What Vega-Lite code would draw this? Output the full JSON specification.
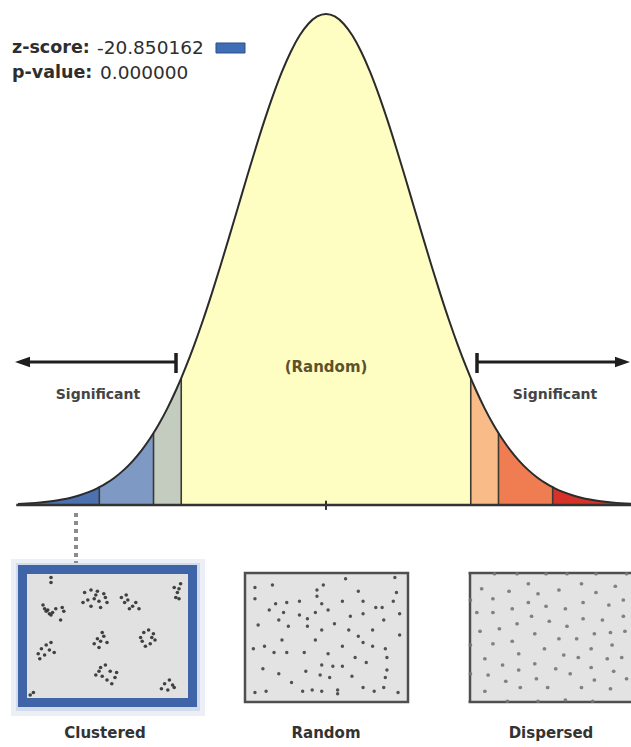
{
"$schema":"https://vega.github.io/schema/vega-lite/v6.json",
"width":631,"height":747,
"autosize":{"type":"none"},
"padding":0,
"background":"white",
"config":{"view":{"stroke":null},"text":{"font":"DejaVu Sans"}},
"datasets":{
"curve":[
{"x":-3.5,"y":0.000873,"band":"b1"},{"x":-3.4,"y":0.001232,"band":"b1"},{"x":-3.3,"y":0.001723,"band":"b1"},{"x":-3.2,"y":0.002384,"band":"b1"},{"x":-3.1,"y":0.003267,"band":"b1"},{"x":-3.0,"y":0.004432,"band":"b1"},{"x":-2.9,"y":0.005953,"band":"b1"},{"x":-2.8,"y":0.007915,"band":"b1"},{"x":-2.7,"y":0.010421,"band":"b1"},{"x":-2.6,"y":0.013583,"band":"b1"},{"x":-2.576,"y":0.014455,"band":"b1"},
{"x":-2.576,"y":0.014455,"band":"b2","dup":1},{"x":-2.5,"y":0.017528,"band":"b2"},{"x":-2.4,"y":0.022395,"band":"b2"},{"x":-2.3,"y":0.028327,"band":"b2"},{"x":-2.2,"y":0.035475,"band":"b2"},{"x":-2.1,"y":0.043984,"band":"b2"},{"x":-2.0,"y":0.053991,"band":"b2"},{"x":-1.96,"y":0.058441,"band":"b2"},
{"x":-1.96,"y":0.058441,"band":"b3","dup":1},{"x":-1.9,"y":0.065616,"band":"b3"},{"x":-1.8,"y":0.07895,"band":"b3"},{"x":-1.7,"y":0.094049,"band":"b3"},{"x":-1.645,"y":0.103111,"band":"b3"},
{"x":-1.645,"y":0.103111,"band":"b4","dup":1},{"x":-1.6,"y":0.110921,"band":"b4"},{"x":-1.5,"y":0.129518,"band":"b4"},{"x":-1.4,"y":0.149727,"band":"b4"},{"x":-1.3,"y":0.171369,"band":"b4"},{"x":-1.2,"y":0.194186,"band":"b4"},{"x":-1.1,"y":0.217852,"band":"b4"},{"x":-1.0,"y":0.241971,"band":"b4"},{"x":-0.9,"y":0.266085,"band":"b4"},{"x":-0.8,"y":0.289692,"band":"b4"},{"x":-0.7,"y":0.312254,"band":"b4"},{"x":-0.6,"y":0.333225,"band":"b4"},{"x":-0.5,"y":0.352065,"band":"b4"},{"x":-0.4,"y":0.36827,"band":"b4"},{"x":-0.3,"y":0.381388,"band":"b4"},{"x":-0.2,"y":0.391043,"band":"b4"},{"x":-0.1,"y":0.396953,"band":"b4"},{"x":0,"y":0.398942,"band":"b4"},{"x":0.1,"y":0.396953,"band":"b4"},{"x":0.2,"y":0.391043,"band":"b4"},{"x":0.3,"y":0.381388,"band":"b4"},{"x":0.4,"y":0.36827,"band":"b4"},{"x":0.5,"y":0.352065,"band":"b4"},{"x":0.6,"y":0.333225,"band":"b4"},{"x":0.7,"y":0.312254,"band":"b4"},{"x":0.8,"y":0.289692,"band":"b4"},{"x":0.9,"y":0.266085,"band":"b4"},{"x":1.0,"y":0.241971,"band":"b4"},{"x":1.1,"y":0.217852,"band":"b4"},{"x":1.2,"y":0.194186,"band":"b4"},{"x":1.3,"y":0.171369,"band":"b4"},{"x":1.4,"y":0.149727,"band":"b4"},{"x":1.5,"y":0.129518,"band":"b4"},{"x":1.6,"y":0.110921,"band":"b4"},{"x":1.645,"y":0.103111,"band":"b4"},
{"x":1.645,"y":0.103111,"band":"b5","dup":1},{"x":1.7,"y":0.094049,"band":"b5"},{"x":1.8,"y":0.07895,"band":"b5"},{"x":1.9,"y":0.065616,"band":"b5"},{"x":1.96,"y":0.058441,"band":"b5"},
{"x":1.96,"y":0.058441,"band":"b6","dup":1},{"x":2.0,"y":0.053991,"band":"b6"},{"x":2.1,"y":0.043984,"band":"b6"},{"x":2.2,"y":0.035475,"band":"b6"},{"x":2.3,"y":0.028327,"band":"b6"},{"x":2.4,"y":0.022395,"band":"b6"},{"x":2.5,"y":0.017528,"band":"b6"},{"x":2.576,"y":0.014455,"band":"b6"},
{"x":2.576,"y":0.014455,"band":"b7","dup":1},{"x":2.6,"y":0.013583,"band":"b7"},{"x":2.7,"y":0.010421,"band":"b7"},{"x":2.8,"y":0.007915,"band":"b7"},{"x":2.9,"y":0.005953,"band":"b7"},{"x":3.0,"y":0.004432,"band":"b7"},{"x":3.1,"y":0.003267,"band":"b7"},{"x":3.2,"y":0.002384,"band":"b7"},{"x":3.3,"y":0.001723,"band":"b7"},{"x":3.4,"y":0.001232,"band":"b7"},{"x":3.4659,"y":0.000983,"band":"b7"}
]
},
"layer":[
{
"encoding":{
"x":{"field":"x","type":"quantitative","scale":{"domain":[-3.7045,3.4659],"nice":false,"zero":false},"axis":null},
"y":{"field":"y","type":"quantitative","scale":{"domain":[-0.19662,0.4103],"nice":false,"zero":false},"axis":null}
},
"layer":[
{"data":{"values":[{"x":-3.5,"x2":-1.4545,"y":-0.04956,"y2":-0.16575}]},
 "mark":{"type":"rect","fill":"transparent","stroke":"#b4c3dd","strokeWidth":14,"strokeOpacity":0.25},
 "encoding":{"x2":{"field":"x2"},"y2":{"field":"y2"}}},
{"data":{"values":[{"x":-3.4773,"x2":-1.4773,"y":-0.05037,"y2":-0.16413}]},
 "mark":{"type":"rect","fill":"transparent","stroke":"#a3b6d8","strokeWidth":8,"strokeOpacity":0.35},
 "encoding":{"x2":{"field":"x2"},"y2":{"field":"y2"}}},
{"data":{"values":[{"x":-3.4489,"x2":-1.517,"y":-0.05241,"y2":-0.16047}]},
 "mark":{"type":"rect","fill":"#e1e1e1","stroke":"#3f65a8","strokeWidth":9},
 "encoding":{"x2":{"field":"x2"},"y2":{"field":"y2"}}},
{"data":{"values":[{"x":-0.92045,"x2":0.93182,"y":-0.05525,"y2":-0.16006}]},
 "mark":{"type":"rect","fill":"#e3e3e3","stroke":"#4f4f4f","strokeWidth":2.5},
 "encoding":{"x2":{"field":"x2"},"y2":{"field":"y2"}}},
{"data":{"values":[{"x":1.63636,"x2":3.4659,"y":-0.05525,"y2":-0.16006}]},
 "mark":{"type":"rect","fill":"#e3e3e3"},
 "encoding":{"x2":{"field":"x2"},"y2":{"field":"y2"}}},
{"data":{"values":[{"x":1.62,"x2":3.4659,"y":-0.05525},{"x":1.62,"x2":3.4659,"y":-0.16006}]},
 "mark":{"type":"rule","color":"#4f4f4f","strokeWidth":2.5},
 "encoding":{"x2":{"field":"x2"}}},
{"data":{"values":[{"x":1.63636,"y":-0.05525,"y2":-0.16006}]},
 "mark":{"type":"rule","color":"#4f4f4f","strokeWidth":2.5},
 "encoding":{"y2":{"field":"y2"}}},
{"data":{"values":[{"x":-2.8409,"y":-0.0065,"y2":-0.04712}]},
 "mark":{"type":"rule","color":"#8c8c8c","strokeWidth":4,"strokeDash":[4,4]},
 "encoding":{"y2":{"field":"y2"}}},
{"data":{"name":"curve"},
 "mark":{"type":"area","interpolate":"monotone"},
 "encoding":{"y2":{"datum":0},
  "color":{"field":"band","type":"nominal","scale":{"domain":["b1","b2","b3","b4","b5","b6","b7"],"range":["#4b71b0","#7e99c3","#c4cbbf","#fefec3","#f9bc88","#f07c52","#d6322a"]},"legend":null}}},
{"data":{"values":[{"x":-2.576,"y":0.014455},{"x":-1.96,"y":0.058441},{"x":-1.645,"y":0.103111},{"x":1.645,"y":0.103111},{"x":1.96,"y":0.058441},{"x":2.576,"y":0.014455}]},
 "mark":{"type":"rule","color":"#3b3b33","strokeWidth":1.6},
 "encoding":{"y2":{"datum":0}}},
{"data":{"name":"curve"},
 "transform":[{"filter":"datum.dup != 1"}],
 "mark":{"type":"line","interpolate":"monotone","color":"#2b2b2b","strokeWidth":2},
 "encoding":{}},
{"data":{"values":[{"x":-3.52,"x2":3.4659,"y":0}]},
 "mark":{"type":"rule","color":"#333333","strokeWidth":2.5},
 "encoding":{"x2":{"field":"x2"}}},
{"data":{"values":[{"x":0,"y":0.0035,"y2":-0.004}]},
 "mark":{"type":"rule","color":"#333333","strokeWidth":2},
 "encoding":{"y2":{"field":"y2"}}},
{"data":{"values":[{"x":-3.4545,"x2":-1.7045,"y":0.11618},{"x":1.7159,"x2":3.3636,"y":0.11618}]},
 "mark":{"type":"rule","color":"#1e1e1e","strokeWidth":3},
 "encoding":{"x2":{"field":"x2"}}},
{"data":{"values":[{"x":-1.7045,"y":0.1235,"y2":0.10725},{"x":1.7159,"y":0.1235,"y2":0.10725}]},
 "mark":{"type":"rule","color":"#1e1e1e","strokeWidth":3.5},
 "encoding":{"y2":{"field":"y2"}}},
{"data":{"values":[{"x":-3.4489,"y":0.11618,"dir":"L"},{"x":3.3693,"y":0.11618,"dir":"R"}]},
 "mark":{"type":"point","filled":true,"size":225,"color":"#1e1e1e","opacity":1},
 "encoding":{"shape":{"field":"dir","type":"nominal","scale":{"domain":["L","R"],"range":["M-1,0L1,-0.7L1,0.7Z","M1,0L-1,-0.7L-1,0.7Z"]},"legend":null}}},
{"data":{"values":[{"x":-1.25,"x2":-0.9205,"y":0.37537,"y2":0.36724}]},
 "mark":{"type":"rect","fill":"#3f6db6","stroke":"#2d4f8a","strokeWidth":1},
 "encoding":{"x2":{"field":"x2"},"y2":{"field":"y2"}}},
{"data":{"values":[{"x":-3.5682,"y":0.37131,"t":"z-score:"},{"x":-3.5682,"y":0.35099,"t":"p-value:"}]},
 "mark":{"type":"text","align":"left","baseline":"middle","fontSize":17.5,"fontWeight":"bold","color":"#2e2e2e"},
 "encoding":{"text":{"field":"t"}}},
{"data":{"values":[{"x":-2.6023,"y":0.37131,"t":"-20.850162"},{"x":-2.5682,"y":0.35099,"t":"0.000000"}]},
 "mark":{"type":"text","align":"left","baseline":"middle","fontSize":18.5,"fontWeight":"normal","color":"#2e2e2e"},
 "encoding":{"text":{"field":"t"}}},
{"data":{"values":[{"x":0,"y":0.11212,"t":"(Random)"}]},
 "mark":{"type":"text","align":"center","baseline":"middle","fontSize":15,"fontWeight":"bold","color":"#5d512c"},
 "encoding":{"text":{"field":"t"}}},
{"data":{"values":[{"x":-2.5909,"y":0.08937,"t":"Significant"},{"x":2.6023,"y":0.08937,"t":"Significant"}]},
 "mark":{"type":"text","align":"center","baseline":"middle","fontSize":14,"fontWeight":"bold","color":"#444444"},
 "encoding":{"text":{"field":"t"}}},
{"data":{"values":[{"x":-2.5114,"y":-0.18525,"t":"Clustered"},{"x":0,"y":-0.18525,"t":"Random"},{"x":2.5568,"y":-0.18525,"t":"Dispersed"}]},
 "mark":{"type":"text","align":"center","baseline":"middle","fontSize":15,"fontWeight":"bold","color":"#333333"},
 "encoding":{"text":{"field":"t"}}}
]
},
{
"data":{"values":[
{"u":10,"v":24},{"u":12,"v":29},{"u":14,"v":31},{"u":16,"v":30},{"u":22,"v":26},{"u":23,"v":29},{"u":21,"v":36},{"u":15,"v":32},{"u":11,"v":27},{"u":13,"v":28},{"u":18,"v":27},
{"u":36,"v":14},{"u":40,"v":12},{"u":44,"v":13},{"u":48,"v":15},{"u":38,"v":20},{"u":42,"v":19},{"u":45,"v":21},{"u":50,"v":22},{"u":35,"v":22},{"u":40,"v":25},{"u":46,"v":26},{"u":49,"v":18},{"u":43,"v":16},
{"u":59,"v":18},{"u":61,"v":22},{"u":63,"v":20},{"u":66,"v":25},{"u":68,"v":22},{"u":70,"v":27},{"u":64,"v":27},{"u":62,"v":16},
{"u":92,"v":10},{"u":94,"v":14},{"u":95,"v":11},{"u":96,"v":7},{"u":93,"v":18},{"u":95,"v":19},
{"u":42,"v":55},{"u":44,"v":51},{"u":46,"v":53},{"u":48,"v":49},{"u":50,"v":54},{"u":45,"v":58},{"u":47,"v":46},
{"u":71,"v":50},{"u":73,"v":46},{"u":76,"v":44},{"u":79,"v":47},{"u":80,"v":52},{"u":77,"v":55},{"u":74,"v":57},{"u":72,"v":53},{"u":78,"v":50},
{"u":7,"v":63},{"u":9,"v":59},{"u":12,"v":56},{"u":15,"v":54},{"u":14,"v":60},{"u":17,"v":62},{"u":8,"v":67},{"u":11,"v":64},
{"u":43,"v":80},{"u":46,"v":74},{"u":49,"v":72},{"u":52,"v":77},{"u":55,"v":82},{"u":50,"v":84},{"u":53,"v":87},{"u":47,"v":81},{"u":45,"v":77},{"u":56,"v":78},
{"u":84,"v":91},{"u":86,"v":87},{"u":89,"v":84},{"u":91,"v":88},{"u":88,"v":92},{"u":92,"v":90},
{"u":15,"v":2},{"u":15,"v":6},{"u":2,"v":96},{"u":4,"v":94}
]},
"mark":{"type":"circle","size":13,"color":"#2f2f2f","opacity":0.9},
"encoding":{
"x":{"field":"u","type":"quantitative","scale":{"domain":[-16.875,377.5],"nice":false,"zero":false},"axis":null},
"y":{"field":"v","type":"quantitative","scale":{"domain":[-460,137.6],"reverse":true,"nice":false,"zero":false},"axis":null}
}
},
{
"data":{"values":[
{"u":16,"v":8},{"u":48,"v":8},{"u":62,"v":3},{"u":93,"v":2},{"u":94,"v":14},{"u":5,"v":19},{"u":18,"v":23},{"u":33,"v":21},{"u":44,"v":17},{"u":47,"v":23},{"u":60,"v":21},{"u":70,"v":13},{"u":73,"v":21},{"u":85,"v":26},{"u":92,"v":21},{"u":14,"v":28},{"u":23,"v":30},{"u":33,"v":32},{"u":38,"v":35},{"u":43,"v":30},{"u":51,"v":28},{"u":65,"v":33},{"u":73,"v":31},{"u":7,"v":40},{"u":20,"v":36},{"u":26,"v":41},{"u":38,"v":41},{"u":47,"v":44},{"u":55,"v":39},{"u":64,"v":44},{"u":79,"v":44},{"u":86,"v":36},{"u":96,"v":48},{"u":4,"v":59},{"u":11,"v":57},{"u":17,"v":62},{"u":25,"v":62},{"u":36,"v":62},{"u":43,"v":52},{"u":70,"v":49},{"u":73,"v":54},{"u":79,"v":57},{"u":87,"v":59},{"u":68,"v":66},{"u":75,"v":70},{"u":88,"v":66},{"u":10,"v":75},{"u":20,"v":79},{"u":47,"v":72},{"u":54,"v":73},{"u":60,"v":73},{"u":46,"v":80},{"u":52,"v":82},{"u":88,"v":76},{"u":28,"v":86},{"u":35,"v":93},{"u":41,"v":92},{"u":47,"v":93},{"u":57,"v":92},{"u":57,"v":95},{"u":73,"v":90},{"u":80,"v":93},{"u":86,"v":90},{"u":87,"v":82},{"u":95,"v":94},{"u":5,"v":94},{"u":12,"v":93},{"u":44,"v":12},{"u":81,"v":26},{"u":25,"v":22},{"u":66,"v":81},{"u":5,"v":10},{"u":37,"v":77},{"u":51,"v":63},{"u":60,"v":57},{"u":22,"v":52},{"u":96,"v":31}
]},
"mark":{"type":"circle","size":12,"color":"#404040","opacity":0.9},
"encoding":{
"x":{"field":"u","type":"quantitative","scale":{"domain":[-155.35,241.51],"nice":false,"zero":false},"axis":null},
"y":{"field":"v","type":"quantitative","scale":{"domain":[-460,137.6],"reverse":true,"nice":false,"zero":false},"axis":null}
}
},
{
"data":{"values":[
{"u":6,"v":11},{"u":23,"v":13},{"u":35,"v":7},{"u":41,"v":15},{"u":54,"v":12},{"u":68,"v":7},{"u":77,"v":14},{"u":89,"v":9},
{"u":13,"v":19},{"u":35,"v":22},{"u":46,"v":25},{"u":58,"v":27},{"u":69,"v":22},{"u":85,"v":24},{"u":94,"v":20},
{"u":3,"v":30},{"u":13,"v":30},{"u":25,"v":27},{"u":37,"v":33},{"u":48,"v":37},{"u":69,"v":35},{"u":81,"v":36},{"u":94,"v":33},
{"u":5,"v":45},{"u":17,"v":43},{"u":28,"v":39},{"u":39,"v":47},{"u":59,"v":41},{"u":76,"v":47},{"u":86,"v":46},{"u":95,"v":45},
{"u":13,"v":55},{"u":25,"v":53},{"u":45,"v":59},{"u":54,"v":51},{"u":65,"v":51},{"u":74,"v":59},{"u":87,"v":56},
{"u":8,"v":67},{"u":19,"v":72},{"u":29,"v":63},{"u":39,"v":71},{"u":57,"v":64},{"u":66,"v":66},{"u":84,"v":67},{"u":93,"v":66},
{"u":10,"v":80},{"u":29,"v":76},{"u":52,"v":75},{"u":61,"v":79},{"u":74,"v":74},{"u":88,"v":77},
{"u":21,"v":85},{"u":40,"v":83},{"u":76,"v":84},{"u":96,"v":83},
{"u":8,"v":93},{"u":30,"v":90},{"u":47,"v":90},{"u":68,"v":90},{"u":86,"v":91},
{"u":14,"v":-1},{"u":28,"v":-1},{"u":46,"v":-1},{"u":59,"v":-1},{"u":77,"v":-1},{"u":96,"v":-1},
{"u":22,"v":101},{"u":41,"v":101},{"u":58,"v":100},{"u":75,"v":101},
{"u":-1,"v":20},{"u":-1,"v":56},{"u":-1,"v":79}
]},
"mark":{"type":"circle","size":14,"color":"#767676","opacity":0.9},
"encoding":{
"x":{"field":"u","type":"quantitative","scale":{"domain":[-293.17,98.76],"nice":false,"zero":false},"axis":null},
"y":{"field":"v","type":"quantitative","scale":{"domain":[-460,137.6],"reverse":true,"nice":false,"zero":false},"axis":null}
}
}
],
"resolve":{"scale":{"x":"independent","y":"independent"}}
}
